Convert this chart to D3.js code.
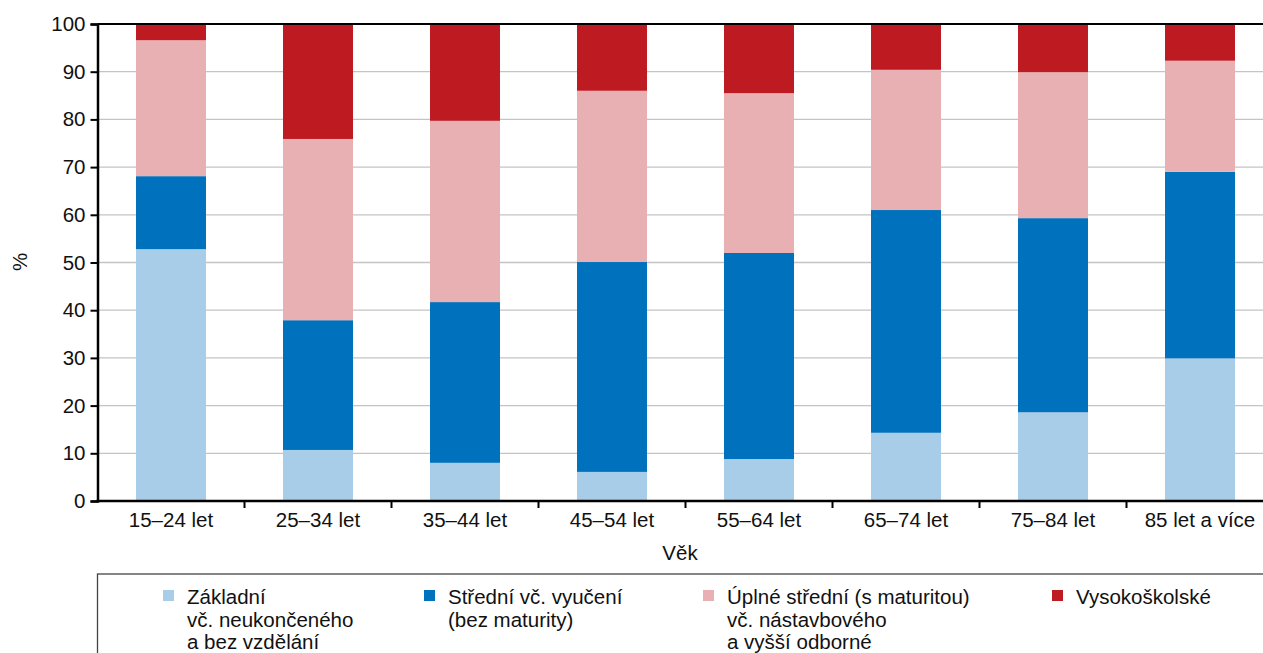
<!DOCTYPE html>
<html>
<head>
<meta charset="utf-8">
<script src="https://cdn.jsdelivr.net/npm/d3@7"></script>
<style>
  body { margin: 0; background: #fff; }
  svg { display: block; font-family: "Liberation Sans", Arial, sans-serif; }
</style>
</head>
<body>
<div id="chart"></div>
<script>
var categories = ['15–24 let', '25–34 let', '35–44 let', '45–54 let', '55–64 let', '65–74 let', '75–84 let', '85 let a více'];
var seriesNames = ['zakladni', 'stredni', 'uplne', 'vs'];
// shares in %
var zakladni = [52.8, 10.7, 8.0, 6.1, 8.8, 14.3, 18.6, 29.9];
var stredni  = [15.3, 27.2, 33.7, 44.0, 43.2, 46.7, 40.7, 39.1];
var uplne    = [28.5, 38.0, 38.0, 35.9, 33.5, 29.4, 30.6, 23.3];
var vs       = [3.4, 24.1, 20.3, 14.0, 14.5, 9.6, 10.1, 7.7];
var legendLabels = [
  ['Základní', 'vč. neukončeného', 'a bez vzdělání'],
  ['Střední vč. vyučení', '(bez maturity)'],
  ['Úplné střední (s maturitou)', 'vč. nástavbového', 'a vyšší odborné'],
  ['Vysokoškolské']
];
var colors = ['#a7cde8', '#0071bc', '#e8b0b3', '#bd1a22'];
var yTicks = [0, 10, 20, 30, 40, 50, 60, 70, 80, 90, 100];

var width = 1263, height = 653;
var plotLeft = 97.5, plotTop = 24, plotBottom = 501;
var bandStep = 147;
var fontSize = 20.5;

var svg = d3.select('#chart').append('svg')
  .attr('width', width).attr('height', height);

var x = d3.scaleBand()
  .domain(categories)
  .range([plotLeft, plotLeft + bandStep * categories.length])
  .paddingInner(0.524).paddingOuter(0.262);

var y = d3.scaleLinear().domain([0, 100]).range([plotBottom, plotTop]);

// gridlines
svg.append('g')
  .selectAll('line')
  .data(yTicks.filter(function(d) { return d > 0 && d < 100; }))
  .enter().append('line')
  .attr('x1', plotLeft).attr('x2', width)
  .attr('y1', function(d) { return y(d); })
  .attr('y2', function(d) { return y(d); })
  .attr('stroke', '#c4c4c4').attr('stroke-width', 1.3);

var table = categories.map(function(c, i) {
  return { cat: c, zakladni: zakladni[i], stredni: stredni[i], uplne: uplne[i], vs: vs[i] };
});
var stacked = d3.stack().keys(seriesNames)(table);

svg.append('g')
  .selectAll('g')
  .data(stacked)
  .enter().append('g')
  .attr('fill', function(d, i) { return colors[i]; })
  .selectAll('rect')
  .data(function(d) { return d; })
  .enter().append('rect')
  .attr('x', function(d) { return x(d.data.cat); })
  .attr('width', x.bandwidth())
  .attr('y', function(d) { return y(Math.min(d[1], 100)); })
  .attr('height', function(d) { return y(d[0]) - y(Math.min(d[1], 100)); });

// top frame line
svg.append('line')
  .attr('x1', plotLeft).attr('x2', width)
  .attr('y1', plotTop).attr('y2', plotTop)
  .attr('stroke', '#000').attr('stroke-width', 2);

// y axis
var yAxis = svg.append('g')
  .attr('transform', 'translate(' + plotLeft + ',0)')
  .call(d3.axisLeft(y).tickValues(yTicks).tickSize(7).tickPadding(5));
yAxis.select('.domain').attr('stroke-width', 2.5);
yAxis.selectAll('.tick line').attr('stroke-width', 2);
yAxis.selectAll('text').attr('font-size', fontSize).attr('fill', '#111')
  .attr('font-family', '"Liberation Sans", Arial, sans-serif');

// x axis
svg.append('line')
  .attr('x1', plotLeft - 1).attr('x2', width)
  .attr('y1', plotBottom).attr('y2', plotBottom)
  .attr('stroke', '#000').attr('stroke-width', 2.5);

svg.append('g')
  .selectAll('line')
  .data(categories.slice(1))
  .enter().append('line')
  .attr('x1', function(d) { return x(d) - x.step() * x.paddingInner() / 2; })
  .attr('x2', function(d) { return x(d) - x.step() * x.paddingInner() / 2; })
  .attr('y1', plotBottom).attr('y2', plotBottom + 7)
  .attr('stroke', '#000').attr('stroke-width', 2);

svg.append('g')
  .selectAll('text')
  .data(categories)
  .enter().append('text')
  .attr('x', function(d) { return x(d) + x.bandwidth() / 2; })
  .attr('y', plotBottom + 26)
  .attr('text-anchor', 'middle')
  .attr('font-size', fontSize).attr('fill', '#111')
  .text(function(d) { return d; });

// axis titles
svg.append('text')
  .attr('x', 680).attr('y', 560)
  .attr('text-anchor', 'middle')
  .attr('font-size', fontSize).attr('fill', '#111')
  .text('Věk');

svg.append('text')
  .attr('transform', 'translate(27,262) rotate(-90)')
  .attr('text-anchor', 'middle')
  .attr('font-size', fontSize).attr('fill', '#111')
  .text('%');

// legend
svg.append('rect')
  .attr('x', plotLeft).attr('y', 574)
  .attr('width', width).attr('height', 120)
  .attr('fill', 'none').attr('stroke', '#444').attr('stroke-width', 1.3);

var legendX = [163, 424, 703, 1052];
var leg = svg.append('g')
  .selectAll('g')
  .data(legendLabels)
  .enter().append('g')
  .attr('transform', function(d, i) { return 'translate(' + legendX[i] + ',590)'; });

leg.append('rect')
  .attr('width', 11).attr('height', 11)
  .attr('fill', function(d, i) { return colors[i]; });

leg.append('text')
  .attr('font-size', fontSize).attr('fill', '#111')
  .selectAll('tspan')
  .data(function(d) { return d; })
  .enter().append('tspan')
  .attr('x', 24)
  .attr('y', function(d, j) { return 14 + j * 22.5; })
  .text(function(d) { return d; });
</script>
</body>
</html>
